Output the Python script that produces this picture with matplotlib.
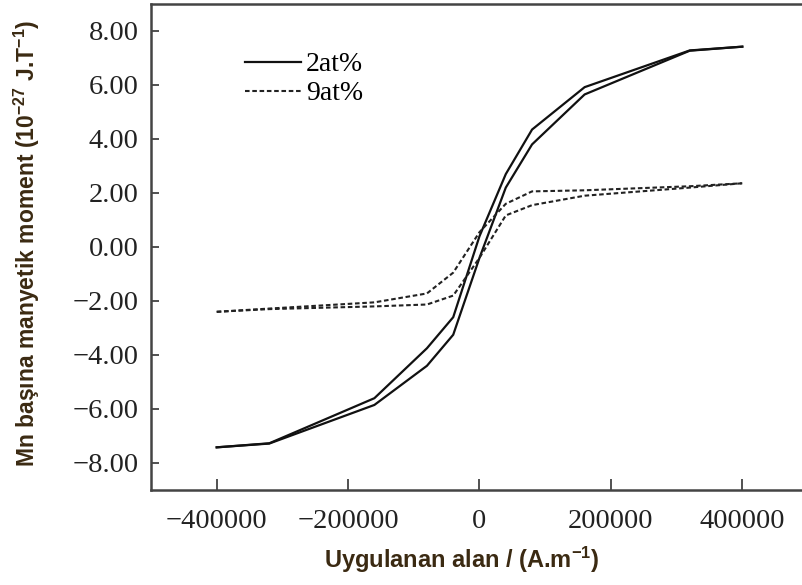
import matplotlib
matplotlib.use("Agg")
import matplotlib.pyplot as plt

plt.rcParams["mathtext.default"] = "regular"

# Applied field (A/m)
field = [-400000, -320000, -160000, -80000, -40000, 0, 40000, 80000, 160000, 320000, 400000]

# 2at% loop: descending (upper) and ascending (lower) branches
m2_upper = [-7.42, -7.27, -5.60, -3.75, -2.60, 0.40, 2.70, 4.35, 5.92, 7.28, 7.42]
m2_lower = [-7.42, -7.28, -5.85, -4.40, -3.25, -0.40, 2.20, 3.80, 5.65, 7.27, 7.42]

# 9at% loop
m9_upper = [-2.40, -2.28, -2.05, -1.72, -0.95, 0.55, 1.60, 2.06, 2.10, 2.25, 2.36]
m9_lower = [-2.40, -2.30, -2.20, -2.13, -1.80, -0.40, 1.17, 1.55, 1.90, 2.20, 2.36]

yticks = [-8, -6, -4, -2, 0, 2, 4, 6, 8]
xticks = [-400000, -200000, 0, 200000, 400000]

labels = ["2at%", "9at%"]
xlabel = "Uygulanan alan / (A.m$^{-1}$)"
ylabel = "Mn başına manyetik moment (10$^{-27}$ J.T$^{-1}$)"

W, H = 803, 585
fig = plt.figure(figsize=(W / 100, H / 100), dpi=100)
left, right, top, bottom = 151, 808, 4, 490
ax = fig.add_axes([left / W, 1 - bottom / H, (right - left) / W, (bottom - top) / H])

solid_kw = dict(color="#111111", lw=1.6, solid_joinstyle="miter")
dash_kw = dict(color="#222222", lw=1.5, linestyle=(0, (2.2, 1.3)))

ax.plot(field, m2_upper, label=labels[0], **solid_kw)
ax.plot(field, m2_lower, **solid_kw)
ax.plot(field, m9_upper, label=labels[1], **dash_kw)
ax.plot(field, m9_lower, **dash_kw)

ax.set_xlim(-500000, 500000)
ax.set_ylim(-9, 9)
ax.set_xticks(xticks)
ax.set_yticks(yticks)
ax.set_xticklabels([f"{v:d}".replace("-", "\u2212") for v in xticks],
                   fontfamily="Liberation Serif", fontsize=20.5, color="#222222")
ax.set_yticklabels([f"{v:.2f}".replace("-", "\u2212") for v in yticks],
                   fontfamily="Liberation Serif", fontsize=20.5, color="#222222")
ax.tick_params(axis="both", direction="in", length=6, width=1.2, color="#333333")
ax.tick_params(axis="x", length=8, pad=14)
ax.tick_params(axis="y", pad=9)
for s in ax.spines.values():
    s.set_color("#444444")
    s.set_linewidth(1.8)

lab_color = "#3b2a12"
fig.text(462 / W, 1 - 560 / H, xlabel, ha="center", va="center",
         fontfamily="Liberation Sans", fontweight="bold",
         fontsize=17, color=lab_color)
fig.text(27 / W, 1 - 243 / H, ylabel, ha="center", va="center", rotation=90,
         fontfamily="Liberation Sans", fontweight="bold",
         fontsize=16.5, color=lab_color)

leg = ax.legend(loc="upper left",
                bbox_to_anchor=((245 - left) / (right - left), 1 - (52 - top) / (bottom - top)),
                frameon=False, handlelength=2.0, handletextpad=0.2, labelspacing=0.12,
                prop={"family": "Liberation Serif", "size": 20}, borderaxespad=0,
                borderpad=0)

fig.savefig("out.png", dpi=100)
